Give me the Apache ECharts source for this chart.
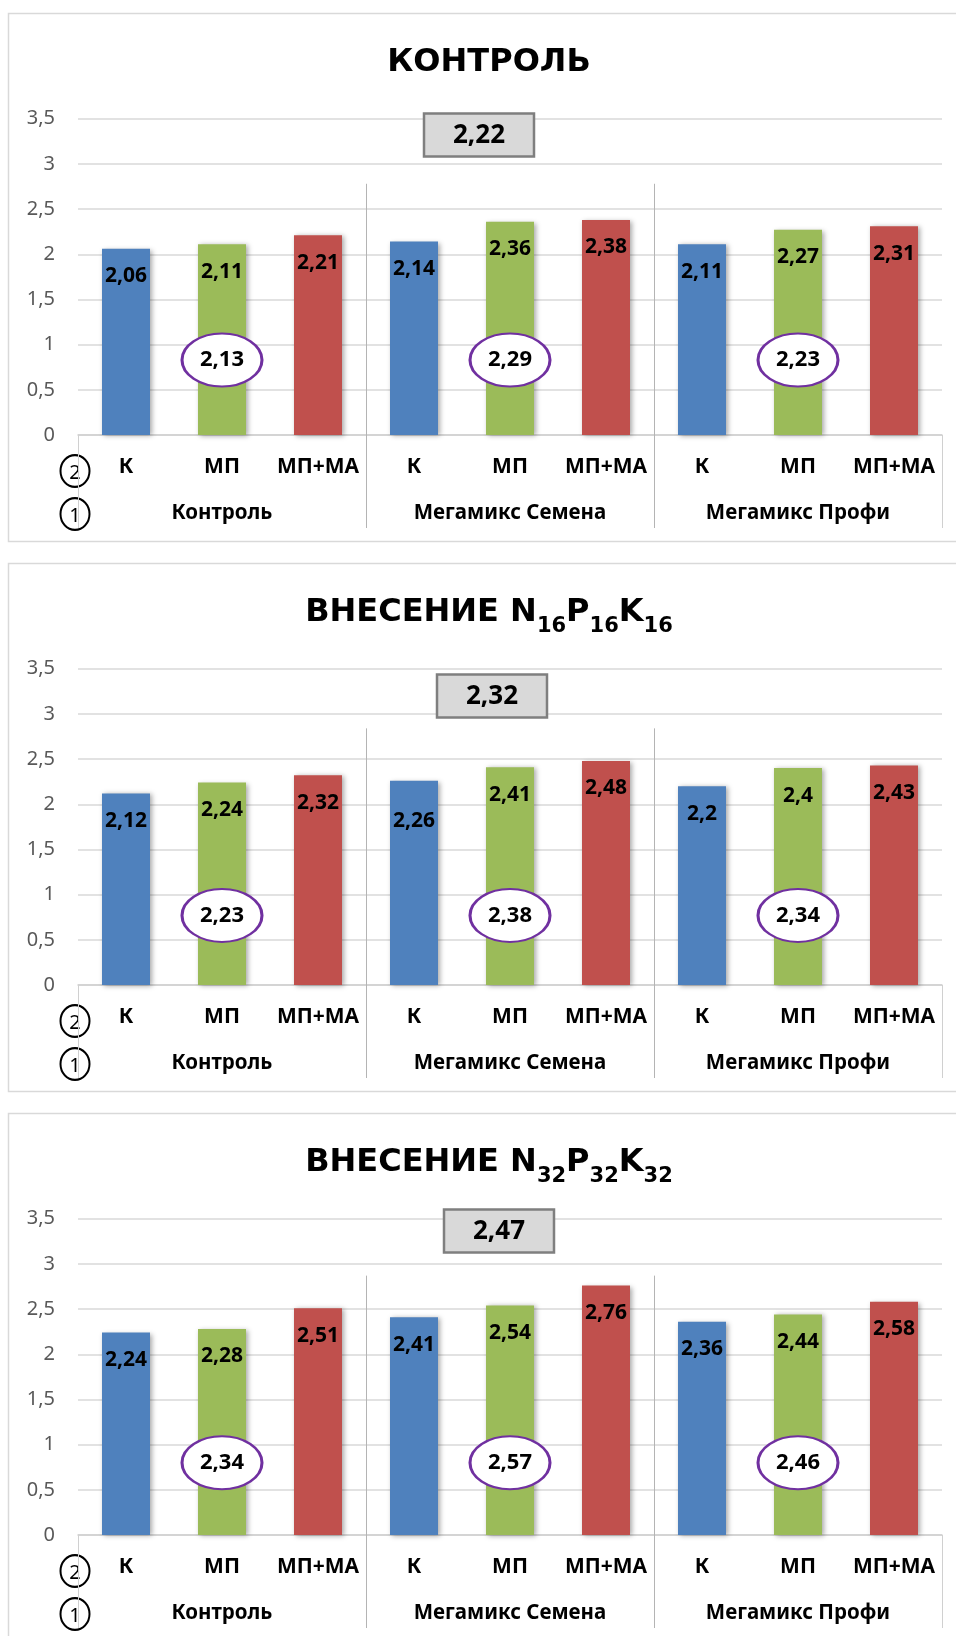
<!DOCTYPE html>
<html>
<head>
<meta charset="utf-8">
<script src="https://cdn.jsdelivr.net/npm/echarts@6/dist/echarts.min.js"></script>
<style>
  html, body { margin: 0; padding: 0; background: #ffffff; }
  #chart { width: 956px; height: 1636px; }
</style>
</head>
<body>
<div id="chart"></div>
<script>
// ---- data ----
const subLabels = ['К', 'МП', 'МП+МА'];
const groupNames = ['Контроль', 'Мегамикс Семена', 'Мегамикс Профи'];
const categories = groupNames.flatMap(() => subLabels);

const panelTitles = [
  'КОНТРОЛЬ',
  'ВНЕСЕНИЕ N{s|16}P{s|16}K{s|16}',
  'ВНЕСЕНИЕ N{s|32}P{s|32}K{s|32}'
];

const valuesControl = [2.06, 2.11, 2.21, 2.14, 2.36, 2.38, 2.11, 2.27, 2.31];
const valuesNPK16   = [2.12, 2.24, 2.32, 2.26, 2.41, 2.48, 2.2, 2.4, 2.43];
const valuesNPK32   = [2.24, 2.28, 2.51, 2.41, 2.54, 2.76, 2.36, 2.44, 2.58];

const groupMeansControl = [2.13, 2.29, 2.23];
const groupMeansNPK16   = [2.23, 2.38, 2.34];
const groupMeansNPK32   = [2.34, 2.57, 2.46];

const totalMeans = [2.22, 2.32, 2.47];

const yMin = 0, yMax = 3.5, yStep = 0.5;

const panelValues = [valuesControl, valuesNPK16, valuesNPK32];
const panelGroupMeans = [groupMeansControl, groupMeansNPK16, groupMeansNPK32];

// ---- styling / layout ----
const FONT = '"Noto Sans", sans-serif';
const TITLE_FONT = '"DejaVu Sans", sans-serif';
const barColors = ['#4F81BD', '#9BBB59', '#C0504D'];
const PANEL_STEP = 550;
const GRID_LEFT = 78, GRID_RIGHT = 14, GRID_TOP = 118.7, GRID_H = 316.3;
const ellipseLevel = [0.83, 0.77, 0.80];          // vertical anchor of the group-mean ovals (axis units)
const boxAnchor = [[4.18, 3.32], [4.31, 3.2], [4.385, 3.36]]; // overall-mean box anchor (axis units)
const BOX_W = 110, BOX_H = 43;
const dividerTop = [2.78, 2.84, 2.87];            // top of group divider lines (axis units)
const labelNudge = { '1-3': 13 };                 // extra downward shift for single labels

const fmt = v => String(v).replace('.', ',');

const option = {
  backgroundColor: '#ffffff',
  animation: false,
  title: [],
  grid: [],
  xAxis: [],
  yAxis: [],
  series: []
};

for (let i = 0; i < 3; i++) {
  const off = i * PANEL_STEP;
  option.title.push({
    text: panelTitles[i],
    left: 489,
    top: off + 47,
    padding: 0,
    textAlign: 'center',
    textStyle: {
      fontFamily: TITLE_FONT, fontWeight: 'bold', fontSize: 32, color: '#000',
      lineHeight: 32, verticalAlign: 'top',
      rich: {
        s: { fontFamily: TITLE_FONT, fontWeight: 'bold', fontSize: 21, color: '#000',
             lineHeight: 21, verticalAlign: 'top', padding: [19, 0, 0, 0] }
      }
    }
  });
  option.grid.push({ left: GRID_LEFT, right: GRID_RIGHT, top: off + GRID_TOP, height: GRID_H });

  // sub-category axis
  option.xAxis.push({
    type: 'category', gridIndex: i, data: categories,
    axisLine: { show: true, lineStyle: { color: '#d0d0d0', width: 1.5 } },
    axisTick: { show: false },
    axisLabel: { interval: 0, margin: 22, fontFamily: FONT, fontWeight: 'bold', fontSize: 21, color: '#000' },
    splitLine: { show: false }
  });
  // group axis (second level)
  option.xAxis.push({
    type: 'category', gridIndex: i, data: groupNames, position: 'bottom', offset: 46,
    axisLine: { show: false }, axisTick: { show: false },
    axisLabel: { interval: 0, margin: 22, fontFamily: FONT, fontWeight: 'bold', fontSize: 20.5, color: '#000' },
    splitLine: { show: false }
  });
  // continuous helper axis for annotations
  option.xAxis.push({ type: 'value', gridIndex: i, min: 0, max: 9, show: false });

  option.yAxis.push({
    type: 'value', gridIndex: i, min: yMin, max: yMax, interval: yStep,
    axisLine: { show: false }, axisTick: { show: false },
    axisLabel: { margin: 23, fontFamily: FONT, fontSize: 20, color: '#595959', formatter: v => fmt(v) },
    splitLine: { lineStyle: { color: '#d9d9d9', width: 1.5 } }
  });

  option.series.push({
    type: 'bar', xAxisIndex: i * 3, yAxisIndex: i,
    barWidth: '50%', silent: true,
    data: panelValues[i].map((v, k) => ({
      value: v,
      itemStyle: { color: barColors[k % 3] },
      label: labelNudge[i + '-' + k] ? { offset: [0, labelNudge[i + '-' + k]] } : undefined
    })),
    itemStyle: { shadowBlur: 5, shadowColor: 'rgba(0,0,0,0.35)', shadowOffsetX: 2, shadowOffsetY: 1 },
    label: {
      show: true, position: 'insideTop', distance: 17,
      fontFamily: FONT, fontWeight: 'bold', fontSize: 21, lineHeight: 21, color: '#000',
      formatter: p => fmt(p.value)
    }
  });

  // group means in ovals over the middle bar of each group
  option.series.push({
    type: 'scatter', xAxisIndex: i * 3 + 2, yAxisIndex: i, silent: true, z: 5,
    symbol: 'circle', symbolSize: [80, 53],
    itemStyle: { color: '#ffffff', borderColor: '#7030A0', borderWidth: 2.5, opacity: 1 },
    label: { show: true, position: 'inside', fontFamily: FONT, fontWeight: 'bold', fontSize: 22, color: '#000',
             formatter: p => fmt(p.value[2]) },
    data: panelGroupMeans[i].map((m, g) => [g * 3 + 1.5, ellipseLevel[i], m])
  });
}

const chart = echarts.init(document.getElementById('chart'), null, { renderer: 'canvas' });
chart.setOption(option);

// panel frames, overall-mean boxes, group dividers and level markers
const graphics = [];
for (let i = 0; i < 3; i++) {
  const off = i * PANEL_STEP;
  graphics.push({
    type: 'rect', z: -10, silent: true,
    shape: { x: 8.5, y: off + 13.5, width: 1000, height: 528 },
    style: { fill: null, stroke: '#d9d9d9', lineWidth: 1.5 }
  });

  const bx = chart.convertToPixel({ xAxisIndex: i * 3 + 2 }, boxAnchor[i][0]);
  const by = chart.convertToPixel({ yAxisIndex: i }, boxAnchor[i][1]);
  graphics.push({
    type: 'group', x: Math.round(bx), y: Math.round(by), z: 20, silent: true,
    children: [
      { type: 'rect', shape: { x: -BOX_W / 2, y: -BOX_H / 2, width: BOX_W, height: BOX_H },
        style: { fill: '#d9d9d9', stroke: '#7f7f7f', lineWidth: 2.5 } },
      { type: 'text', x: 0, y: 1,
        style: { text: fmt(totalMeans[i]), fontFamily: FONT, fontWeight: 'bold', fontSize: 26,
                 fill: '#000', align: 'center', verticalAlign: 'middle' } }
    ]
  });

  const yBase = chart.convertToPixel({ yAxisIndex: i }, 0);
  const yTop = chart.convertToPixel({ yAxisIndex: i }, dividerTop[i]);
  const yBottom = yBase + 93;
  [0, 3, 6, 9].forEach(k => {
    const x = Math.round(chart.convertToPixel({ xAxisIndex: i * 3 + 2 }, k)) + 0.5;
    const top = (k === 0 || k === 9) ? yBase : yTop;
    graphics.push({
      type: 'line', z: 1, silent: true,
      shape: { x1: x, y1: top, x2: x, y2: yBottom },
      style: { stroke: (k === 0 || k === 9) ? '#d0d0d0' : '#b4b4b4', lineWidth: 1 }
    });
  });
  [['2', off + 471], ['1', off + 514]].forEach(([txt, cy]) => {
    graphics.push({
      type: 'group', x: 75, y: cy, z: 10, silent: true,
      children: [
        { type: 'circle', shape: { cx: 0, cy: 0, r: 14.5 }, scaleY: 1.1,
          style: { fill: '#ffffff', stroke: '#000', lineWidth: 2 } },
        { type: 'text', x: 0, y: 2,
          style: { text: txt, fontFamily: FONT, fontSize: 20, fill: '#000', align: 'center', verticalAlign: 'middle' } }
      ]
    });
  });
}
chart.setOption({ graphic: graphics });
</script>
</body>
</html>
